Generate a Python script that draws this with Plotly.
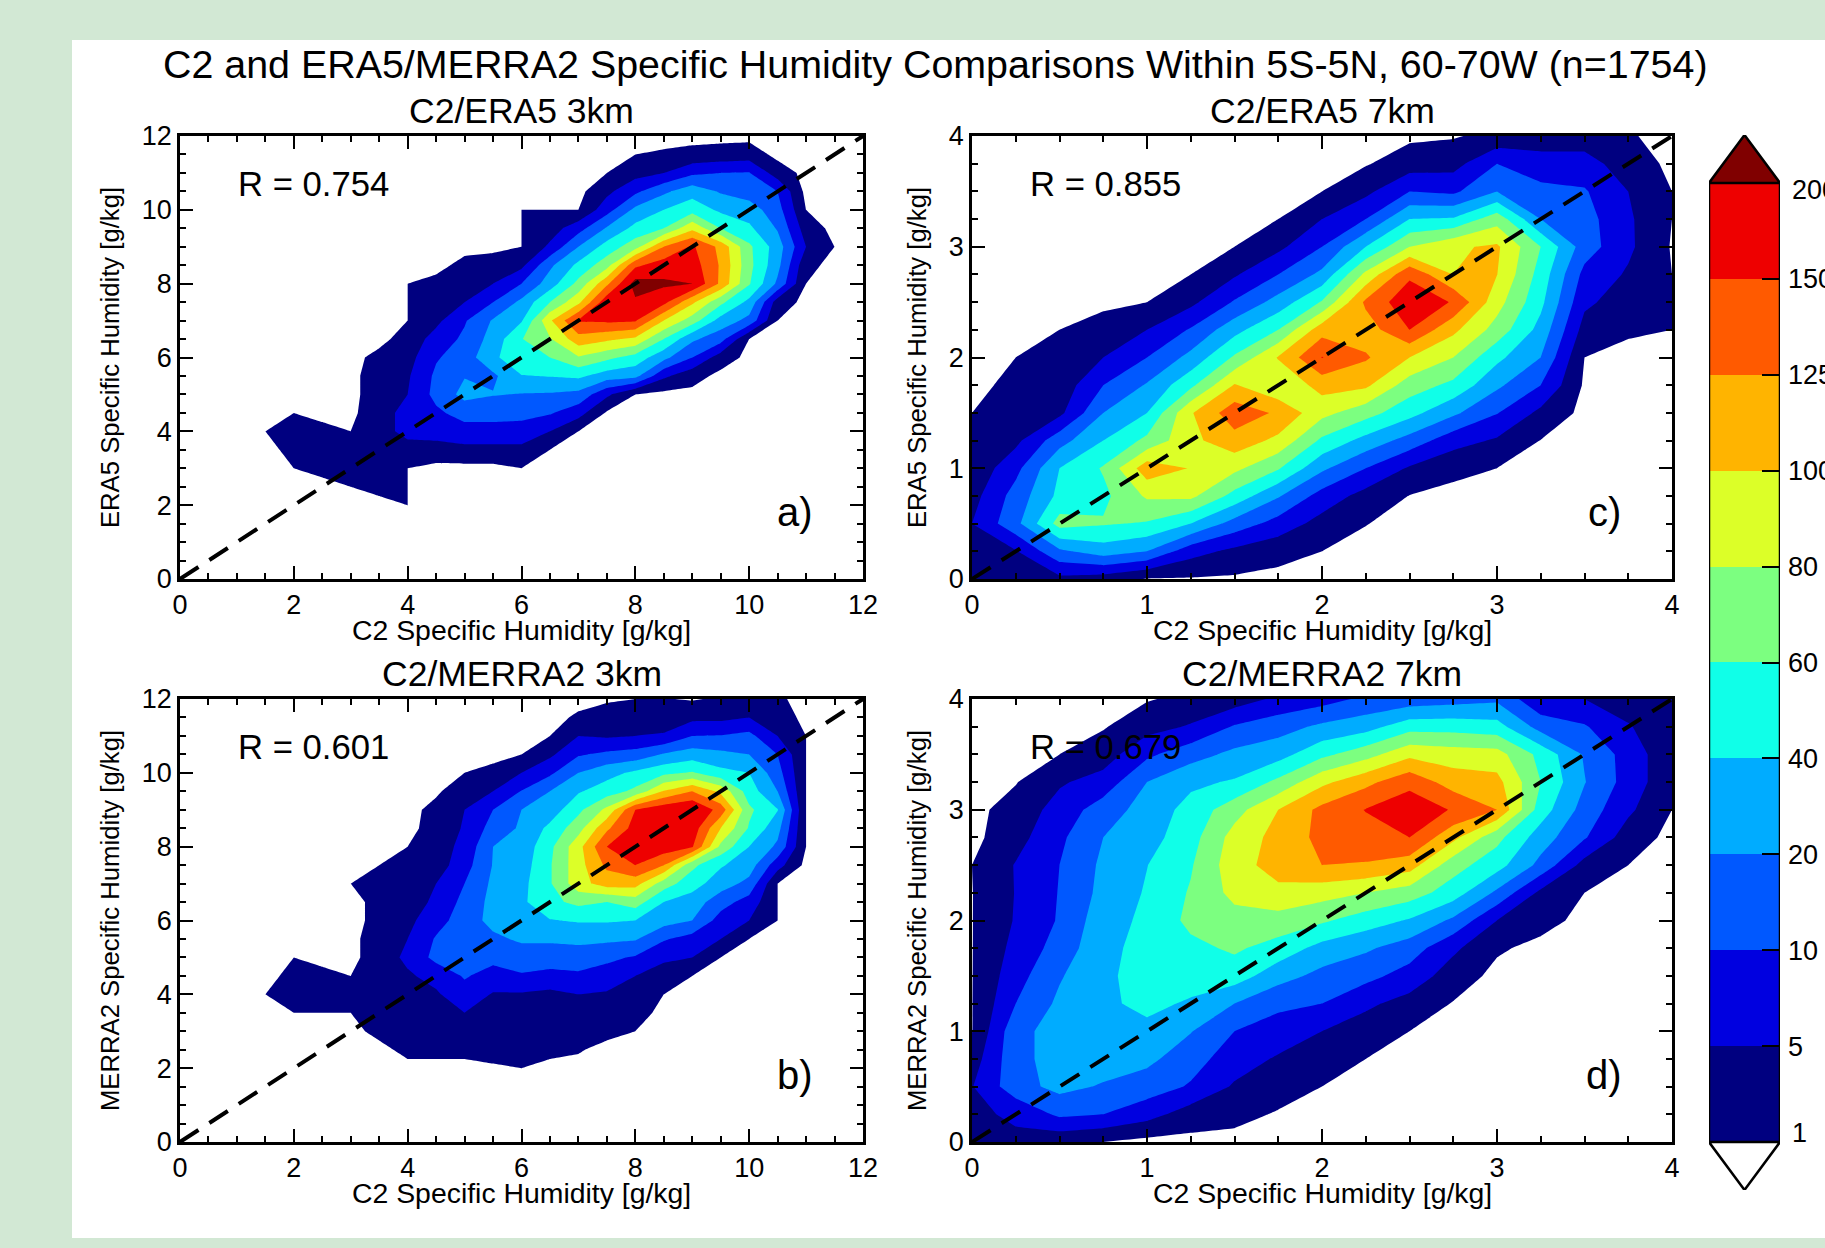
import numpy as np
import plotly.graph_objects as go

W, H = 1825, 1248

TITLE = "C2 and ERA5/MERRA2 Specific Humidity Comparisons Within 5S-5N, 60-70W (n=1754)"
LEVELS = [1, 5, 10, 20, 40, 60, 80, 100, 125, 150, 200]
LEVEL_LABELS = ["", "5", "10", "20", "40", "60", "80", "100", "125", "150", ""]
KEY_END_LABELS = ["1", "200"]
BAND_COLORS = ["#000080", "#0000e0", "#0058ff", "#00acff", "#10ffe8", "#7cff80",
               "#dcff28", "#ffb400", "#ff5a00", "#ee0000", "#800000"]

# Joint-histogram counts: (C2 value, first reanalysis value, counts upward)
A_COLUMNS = [
    (1.5, 4, [1]),
    (2, 3, [1, 2, 2, 1]),
    (2.5, 3, [2, 2, 2]),
    (3, 2.5, [1, 3, 3, 1]),
    (3.5, 2.5, [2, 3, 4, 4, 4, 3, 3, 2]),
    (4, 2, [1, 1, 1, 4, 6, 6, 5, 4.5, 3.5, 2.5, 1, 1, 1]),
    (4.5, 3, [0, 3.5, 7, 9, 13, 12, 9.5, 7, 4, 3, 2]),
    (5, 3, [0, 4, 8, 14, 26, 19.5, 15, 12, 9.5, 5, 3, 2]),
    (5.5, 3, [0, 4, 8, 14, 21, 18, 35, 28, 22, 10, 5, 3]),
    (6, 3, [1, 4, 8, 13, 19.5, 39, 57, 59, 38, 25, 10, 4, 1, 1, 1]),
    (6.5, 3.5, [1, 5, 11, 19, 41, 60, 78, 97, 60, 30, 18, 6, 3, 1]),
    (7, 4, [1, 7, 17, 44, 78, 115, 155, 95, 66, 45, 20, 8, 1]),
    (7.5, 4.5, [0.5, 6, 30, 65, 105, 160, 185, 120, 72, 48, 22, 8, 4, 1]),
    (8, 5, [1, 26, 52, 96, 155, 192, 225, 145, 72, 46, 25, 9, 3.5, 1]),
    (8.5, 5.5, [6, 26, 60, 100, 165, 210, 175, 125, 60, 40, 18, 5, 1.4]),
    (9, 5.5, [2.5, 10, 24, 70, 105, 200, 175, 158, 95, 52, 32, 9, 2]),
    (9.5, 6, [3, 14, 32, 65, 120, 122, 118, 60, 36, 19, 10, 2.5]),
    (10, 6.5, [1, 17, 34, 62, 66, 64, 44, 30, 15, 10.5, 3]),
    (10.5, 7, [1, 3, 18, 26, 30, 19, 14, 10, 3]),
    (11, 8, [1, 2, 5, 3, 1]),
    (11.5, 9, [1]),
]
B_COLUMNS = [
    (1.5, 4, [1]),
    (2, 3.5, [1, 2, 2, 1]),
    (2.5, 3.5, [1, 3, 2]),
    (3, 3.5, [1, 3, 1]),
    (3, 7, [1]),
    (3.5, 3, [2, 3, 3, 3, 3, 3, 2, 2, 1.5, 1]),
    (4, 2.5, [2, 3, 4, 4, 4.5, 6, 5, 4, 3, 3, 2, 1]),
    (4.5, 2.5, [2, 3, 3.5, 4.5, 6.5, 13, 11, 8, 6, 5, 3, 3, 2.5, 2, 0.5]),
    (5, 2.5, [2, 2.5, 5, 8, 11, 14, 16, 15, 13, 10, 8, 6.5, 5.5, 5, 3, 1]),
    (5.5, 2, [0.5, 2.5, 3.5, 4.5, 4.7, 8, 13, 18, 26, 26, 24, 21, 20, 14, 10, 5, 2]),
    (6, 2, [1, 3, 3.5, 4, 4.6, 9.5, 15, 23, 38, 36, 34, 30, 27, 23, 20, 10.5, 5, 1]),
    (6.5, 2.5, [2, 2.5, 3, 4, 8.5, 15, 23, 39, 55, 58, 58, 55, 45, 29, 20, 9, 4.2, 1]),
    (7, 2.5, [1.3, 2.3, 3, 5, 9, 16, 24, 42, 65, 92, 92, 93, 72, 55, 38, 20, 9.5, 5, 1.5]),
    (7.5, 3, [2, 3, 4.5, 8, 12, 24, 42, 60, 112, 130, 150, 120, 85, 50, 33, 12, 4.5, 2.5, 0.6]),
    (8, 3, [1, 2.5, 4, 5, 9.5, 22, 40, 70, 110, 150, 175, 170, 150, 65, 44, 14, 5, 3, 1]),
    (8.5, 4, [1, 3, 6, 11, 28, 40, 70, 125, 180, 190, 185, 102, 55, 22, 5.5, 3, 1.2]),
    (9, 4.5, [1, 5, 8, 20, 31, 48, 65, 155, 180, 203, 125, 62, 30, 10, 4, 0.7]),
    (9.5, 5, [1, 5, 8, 14, 30, 42, 75, 100, 140, 95, 46, 25, 10.5, 4, 1.5]),
    (10, 5.5, [1, 5, 8, 17, 30, 40, 58, 64, 50, 40, 20, 13, 5, 2]),
    (10.5, 6, [1, 1, 1, 7, 18, 27, 41, 20, 14, 10, 5, 3, 1.5]),
    (11, 8, [1, 1, 1, 1, 1, 1, 1]),
]
C_COLUMNS = [
    (0, 0, [3, 4, 5, 3.5, 2, 1.5, 1]),
    (0.25, 0, [3.5, 4.7, 17, 14, 8.5, 4, 2, 2, 1]),
    (0.5, 0, [4, 18, 68, 45, 40, 16, 4, 2.5, 1.8, 1]),
    (0.75, 0, [3, 30, 62, 55, 62, 40, 20, 10, 5, 1.8, 0.6]),
    (1, 0, [0.8, 20, 58, 83, 115, 65, 40, 22, 10, 5, 1]),
    (1.25, 0, [0.7, 7, 40, 85, 99, 95, 98, 55, 26, 11, 4, 1]),
    (1.5, 0, [0.5, 4, 16, 53, 85, 115, 140, 102, 63, 33, 11, 4.5, 1]),
    (1.75, 0, [0, 2.3, 8, 22, 62, 95, 121, 82, 102, 60, 28, 10, 4, 1]),
    (2, 0, [0, 1, 3.5, 8, 24, 56, 86, 110, 152, 115, 62, 25, 10, 5, 1]),
    (2.25, 0.25, [0, 1.1, 3.5, 10, 33, 68, 105, 128, 112, 130, 85, 40, 10, 4, 0.7]),
    (2.5, 0.75, [0.9, 4.5, 16, 47, 70, 100, 150, 185, 145, 80, 40, 10, 3, 0.3]),
    (2.75, 0.75, [0, 2, 7, 24, 55, 80, 106, 148, 100, 97, 42, 9, 3.5, 0.7]),
    (3, 1, [1, 4.5, 10.5, 24, 45, 72, 88, 100.5, 104, 72, 20, 10, 2]),
    (3.25, 1.25, [0.9, 4, 10, 20, 33, 45, 52, 60, 20, 13, 7, 3]),
    (3.5, 1.75, [0.5, 1, 3.5, 6, 8.5, 15, 14, 11, 7, 3]),
    (3.75, 2.25, [1.5, 3, 4.5, 6, 5.8, 5, 3, 1.3]),
    (4, 2.25, [1, 1.2, 1, 0.7, 1, 1, 0.2, 0]),
]
D_COLUMNS = [
    (0, 0, [3, 4, 4.8, 3, 0.9, 0.9, 0.9, 0.9, 0.9, 0.9, 1]),
    (0.25, 0, [4, 6, 16, 17, 17, 10, 8, 6.5, 5.4, 5.2, 5.3, 3.5, 2.5, 0.8]),
    (0.5, 0, [2, 12, 26, 28, 28, 24, 19, 14, 11, 10.5, 10, 9, 7, 4.5, 1]),
    (0.75, 0, [1, 10, 19, 30, 33, 37, 37, 35, 32, 26, 24, 20, 15, 7, 3, 0.7]),
    (1, 0, [0, 7, 15, 25, 36, 44, 46, 46, 44, 42, 39.6, 32, 28, 20, 9, 3.5, 0.7]),
    (1.25, 0, [0, 3, 9.5, 14, 21, 38, 47, 55, 65, 62, 58, 52, 47, 36, 16, 5.5, 2]),
    (1.5, 0, [0, 2, 4.5, 7.5, 10, 20, 50, 63, 72, 86, 92, 88, 72, 42, 25, 11, 3]),
    (1.75, 0.25, [0.7, 2.5, 4.5, 8, 12, 28, 52, 72, 95, 110, 108, 100, 65, 32, 16, 6]),
    (2, 0.5, [1, 2.5, 5, 10, 17, 33, 63, 88, 125, 132, 132, 95, 55, 24, 8]),
    (2.25, 0.75, [1, 3, 6, 13, 23, 50, 80, 123, 140, 152, 118, 72, 32, 12]),
    (2.5, 1, [1, 3.5, 8, 15, 38, 70, 112, 150, 180, 143, 95, 52, 14]),
    (2.75, 1.25, [0.8, 3, 6, 18, 50, 68, 107, 148, 113, 90, 52, 16]),
    (3, 1.75, [1.5, 5, 18, 48, 66, 125, 108, 88, 48, 18]),
    (3.25, 2, [2.3, 4, 17, 30, 50, 60, 54, 16, 6]),
    (3.5, 2.25, [1, 3.5, 11, 16, 21, 19, 11, 5]),
    (3.75, 2.5, [1, 3, 6, 8, 8, 5.5, 2.5]),
    (4, 3, [1, 2, 2, 1.5, 1]),
]

PANELS = [
    dict(cols=A_COLUMNS, top=12, step=0.5, major=2, minor=0.5, title="C2/ERA5 3km", ylab="ERA5 Specific Humidity [g/kg]",
         r="R = 0.754", tag="a)", box=(180, 136, 863, 579)),
    dict(cols=B_COLUMNS, top=12, step=0.5, major=2, minor=0.5, title="C2/MERRA2 3km", ylab="MERRA2 Specific Humidity [g/kg]",
         r="R = 0.601", tag="b)", box=(180, 699, 863, 1142)),
    dict(cols=C_COLUMNS, top=4, step=0.25, major=1, minor=0.25, title="C2/ERA5 7km", ylab="ERA5 Specific Humidity [g/kg]",
         r="R = 0.855", tag="c)", box=(972, 136, 1672, 579)),
    dict(cols=D_COLUMNS, top=4, step=0.25, major=1, minor=0.25, title="C2/MERRA2 7km", ylab="MERRA2 Specific Humidity [g/kg]",
         r="R = 0.679", tag="d)", box=(972, 699, 1672, 1142)),
]

FONT = "Liberation Sans"
XTITLE = "C2 Specific Humidity [g/kg]"


def count_grid(columns, step, top):
    n = int(round(top / step)) + 1
    z = np.zeros((n, n))
    for x, y0, vals in columns:
        j, i = int(round(x / step)), int(round(y0 / step))
        z[i:i + len(vals), j] = vals
    return z


# Contour levels are unevenly spaced, so counts are placed on a band-index scale.
band_x = [0, 0.99] + LEVELS[1:] + [260]
band_y = [-0.25, -0.0025] + list(range(1, 11)) + [11]
n_scale = len(BAND_COLORS) + 1
scale_colors = ["#ffffff"] + BAND_COLORS
stepped = []
for k, c in enumerate(scale_colors):
    stepped += [[k / n_scale, c], [(k + 1) / n_scale, c]]

fig = go.Figure()
annotations = []


def ann(text, px, py, size, anchor="center"):
    annotations.append(dict(text=text, x=px / W, y=1 - py / H, xref="paper", yref="paper",
                            showarrow=False, xanchor=anchor, yanchor="middle",
                            font=dict(size=size, color="black", family=FONT)))


layout_axes = {}
for idx, p in enumerate(PANELS, start=1):
    x0, y0, x1, y1 = p["box"]
    xname, yname = f"x{idx}", f"y{idx}"
    grid_vals = np.arange(0, p["top"] + p["step"] / 2, p["step"])
    z = np.interp(count_grid(p["cols"], p["step"], p["top"]), band_x, band_y)
    fig.add_trace(go.Contour(x=grid_vals, y=grid_vals, z=z, xaxis=xname, yaxis=yname,
                             zmin=-1, zmax=11, zauto=False, colorscale=stepped, showscale=False,
                             contours=dict(coloring="fill", start=0, end=10, size=1, showlines=False),
                             line=dict(width=0, smoothing=0), hoverinfo="skip"))
    fig.add_trace(go.Scatter(x=[0, p["top"]], y=[0, p["top"]], mode="lines", xaxis=xname, yaxis=yname,
                             line=dict(color="black", width=4, dash="22px,13px"),
                             hoverinfo="skip", showlegend=False))
    common = dict(range=[0, p["top"]], dtick=p["major"], tick0=0, ticks="inside", ticklen=13, tickwidth=2,
                  tickcolor="black", showline=True, linecolor="black", linewidth=2.5, mirror="allticks",
                  showgrid=False, zeroline=False, tickfont=dict(size=27, family=FONT, color="black"),
                  minor=dict(dtick=p["minor"], ticks="inside", ticklen=6, tickwidth=2, tickcolor="black", showgrid=False),
                  automargin=False)
    layout_axes[f"xaxis{idx}"] = dict(common, domain=[x0 / W, x1 / W], anchor=yname)
    layout_axes[f"yaxis{idx}"] = dict(common, domain=[1 - y1 / H, 1 - y0 / H], anchor=xname,
                                      title=dict(text=p["ylab"], standoff=15, font=dict(size=25.7, family=FONT, color="black")))
    ann(p["title"], (x0 + x1) / 2, y0 - 25, 35.5)
    ann(XTITLE, (x0 + x1) / 2, y1 + 51, 28.4)
    ann(p["r"], x0 + 56, y0 + 48, 34.7, "left")
    ann(p["tag"], x1 - 68, y0 + 376, 40)

ann(TITLE, 935, 64, 39.4)
ann(KEY_END_LABELS[0], 1790, 1133, 27, "left")
ann(KEY_END_LABELS[1], 1790, 190, 27, "left")

# Colour key: one heatmap cell per band between consecutive levels.
key_cells = [[k + 0.5] for k in range(len(LEVELS) - 1)]
key_edges = list(range(len(LEVELS)))
key_scale = []
for k, c in enumerate(BAND_COLORS[:-1]):
    key_scale += [[k / 10, c], [(k + 1) / 10, c]]
fig.add_trace(go.Heatmap(x=[0, 1], y=key_edges, z=key_cells, xaxis="x5", yaxis="y5", zmin=0, zmax=10,
                         colorscale=key_scale, showscale=False, hoverinfo="skip"))
fig.add_trace(go.Scatter(x=[0, 0.5, 1, 0], y=[10, 10.5, 10, 10], mode="lines", fill="toself", fillcolor=BAND_COLORS[-1],
                         line=dict(color="black", width=2.5), xaxis="x5", yaxis="y5", hoverinfo="skip", showlegend=False,
                         cliponaxis=False))
fig.add_trace(go.Scatter(x=[0, 0.5, 1, 0], y=[0, -0.5, 0, 0], mode="lines", fill="toself", fillcolor="white",
                         line=dict(color="black", width=2.5), xaxis="x5", yaxis="y5", hoverinfo="skip", showlegend=False,
                         cliponaxis=False))
fig.add_trace(go.Scatter(x=[0, 0, None, 1, 1], y=[0, 10, None, 0, 10], mode="lines",
                         line=dict(color="black", width=2.5), xaxis="x5", yaxis="y5", hoverinfo="skip", showlegend=False,
                         cliponaxis=False))
layout_axes["xaxis5"] = dict(domain=[1709 / W, 1780 / W], range=[0, 1], visible=False, anchor="y5")
layout_axes["yaxis5"] = dict(domain=[1 - 1190 / H, 1 - 135 / H], range=[-0.5, 10.5], anchor="x5", side="right",
                             tickvals=key_edges, ticktext=LEVEL_LABELS, ticks="inside", ticklen=18, tickwidth=2,
                             tickcolor="black", showline=False, showgrid=False, zeroline=False, automargin=False,
                             ticklabelstandoff=7, tickfont=dict(size=27, family=FONT, color="black"))

fig.update_layout(
    width=W, height=H, margin=dict(l=0, r=0, t=0, b=0, autoexpand=False), autosize=False,
    paper_bgcolor="#d2e8d4", plot_bgcolor="white", showlegend=False, font=dict(family=FONT),
    annotations=annotations,
    shapes=[dict(type="rect", xref="paper", yref="paper", x0=72 / W, x1=1, y0=1 - 1238 / H, y1=1 - 40 / H,
                 fillcolor="white", line=dict(width=0), layer="below")],
    **layout_axes,
)
fig.write_html("out.html", config={"displayModeBar": False},
               post_script="document.body.style.margin='0';document.body.style.overflow='hidden';")
